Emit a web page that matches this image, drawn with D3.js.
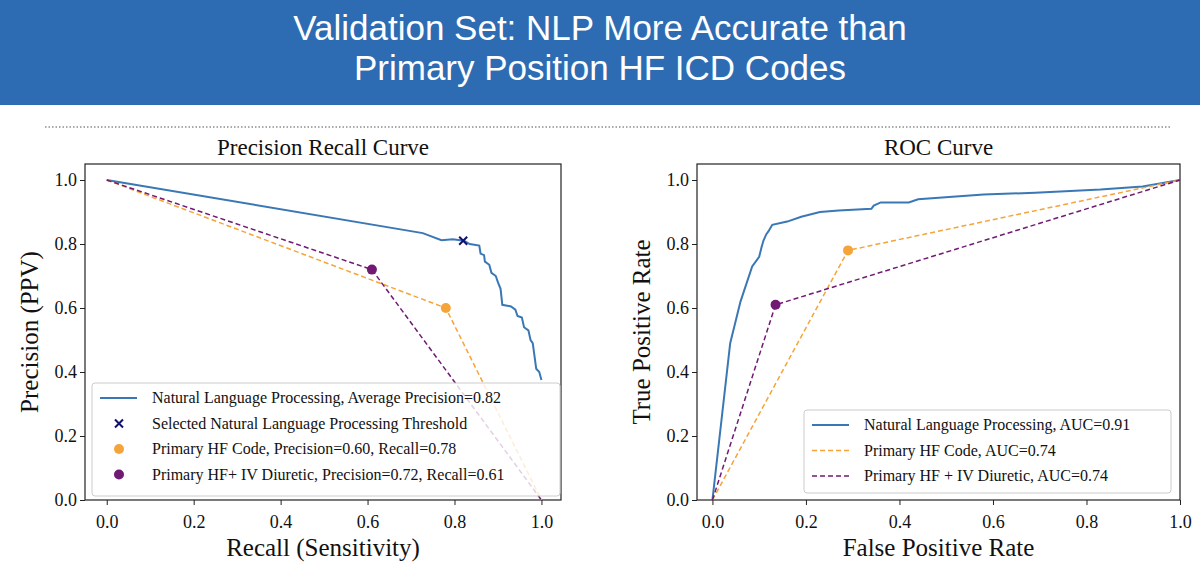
<!DOCTYPE html>
<html>
<head>
<meta charset="utf8">
<style>
  body { margin: 0; background: #fff; }
  text { font-family: "Liberation Serif", "Times New Roman", serif; fill: #111; }
  .hdr { font-family: "Liberation Sans", Arial, sans-serif; fill: #fff; }
</style>
</head>
<body>
<script src="https://d3js.org/d3.v7.min.js"></script>
<script>
var width = 1200, height = 585;

// precision-recall data
var prNlp = [[0,1.0],[0.727,0.834],[0.77,0.812],[0.796,0.815],[0.822,0.81],[0.835,0.80],[0.857,0.795],
  [0.86,0.77],[0.868,0.765],[0.87,0.745],[0.88,0.735],[0.885,0.71],[0.895,0.70],[0.9,0.68],[0.906,0.66],
  [0.91,0.61],[0.93,0.605],[0.94,0.595],[0.945,0.575],[0.955,0.57],[0.96,0.54],[0.97,0.53],
  [0.975,0.50],[0.98,0.49],[0.985,0.44],[0.988,0.41],[0.995,0.40],[1.0,0.375]];
var prSelected = [0.82, 0.81];
var prCode = [[0,1],[0.78,0.60],[1,0]];
var prDiur = [[0,1],[0.61,0.72],[1,0]];
var prLegend = ["Natural Language Processing, Average Precision=0.82",
  "Selected Natural Language Processing Threshold",
  "Primary HF Code, Precision=0.60, Recall=0.78",
  "Primary HF+ IV Diuretic, Precision=0.72, Recall=0.61"];

// ROC data
var rocNlp = [[0,0],[0.038,0.49],[0.06,0.62],[0.085,0.73],[0.1,0.76],[0.105,0.79],[0.109,0.81],
  [0.115,0.83],[0.12,0.84],[0.128,0.86],[0.16,0.87],[0.19,0.885],[0.23,0.9],[0.27,0.905],[0.34,0.91],
  [0.345,0.92],[0.36,0.93],[0.42,0.93],[0.44,0.94],[0.58,0.955],[0.69,0.96],[0.83,0.97],[0.92,0.98],[1,1]];
var rocCode = [[0,0],[0.29,0.78],[1,1]];
var rocDiur = [[0,0],[0.135,0.61],[1,1]];
var rocLegend = ["Natural Language Processing, AUC=0.91", "Primary HF Code, AUC=0.74",
  "Primary HF + IV Diuretic, AUC=0.74"];

var ticks = [0, 0.2, 0.4, 0.6, 0.8, 1.0];
var blue = "#3a78b5", orange = "#f5a43a", purple = "#701a74", navy = "#10106e";

var svg = d3.select("body").append("svg").attr("width", width).attr("height", height);

// header
svg.append("rect").attr("width", width).attr("height", 105).attr("fill", "#2d6cb2");
svg.append("text").attr("class", "hdr").attr("x", 600).attr("y", 40).attr("text-anchor", "middle")
  .style("font-size", "35px").text("Validation Set: NLP More Accurate than");
svg.append("text").attr("class", "hdr").attr("x", 600).attr("y", 80).attr("text-anchor", "middle")
  .style("font-size", "35px").text("Primary Position HF ICD Codes");
svg.append("line").attr("x1", 45).attr("x2", 1170).attr("y1", 127).attr("y2", 127)
  .attr("stroke", "#555").attr("stroke-dasharray", "1.5 2");

function panel(o) {
  var x = d3.scaleLinear().domain(o.xd).range([o.l, o.r]);
  var y = d3.scaleLinear().domain([0, 1.05]).range([500, 164]);
  var g = svg.append("g");
  g.append("rect").attr("x", o.l).attr("y", 164).attr("width", o.r - o.l).attr("height", 336)
    .attr("fill", "none").attr("stroke", "#222").attr("stroke-width", 1.2);
  g.append("g").attr("transform", "translate(0,500)")
    .call(d3.axisBottom(x).tickValues(ticks).tickFormat(d3.format(".1f")).tickSize(5).tickSizeOuter(0))
    .call(a => a.select(".domain").remove())
    .selectAll("text").style("font-size", "18px").attr("dy", "1.1em");
  g.append("g").attr("transform", "translate(" + o.l + ",0)")
    .call(d3.axisLeft(y).tickValues(ticks).tickFormat(d3.format(".1f")).tickSize(5).tickSizeOuter(0))
    .call(a => a.select(".domain").remove())
    .selectAll("text").style("font-size", "18px");
  g.selectAll(".tick line").attr("stroke", "#222");
  g.append("text").attr("x", (o.l + o.r) / 2).attr("y", 155).attr("text-anchor", "middle")
    .style("font-size", "23px").text(o.title);
  g.append("text").attr("x", (o.l + o.r) / 2).attr("y", 556).attr("text-anchor", "middle")
    .style("font-size", "25px").text(o.xlab);
  g.append("text").attr("transform", "translate(" + o.ylx + ",332) rotate(-90)").attr("text-anchor", "middle")
    .style("font-size", "25px").text(o.ylab);

  var line = d3.line().x(d => x(d[0])).y(d => y(d[1]));
  var clip = g.append("g");
  o.lines.forEach(function (s) {
    clip.append("path").datum(s.data).attr("d", line).attr("fill", "none").attr("stroke", s.color)
      .attr("stroke-width", s.dash ? 1.5 : 2).attr("stroke-dasharray", s.dash ? "5 3" : null);
  });
  o.dots.forEach(function (d) {
    clip.append("circle").attr("cx", x(d.p[0])).attr("cy", y(d.p[1])).attr("r", 5).attr("fill", d.color);
  });
  return { x: x, y: y, g: g };
}

var p1 = panel({ l: 85, r: 561, xd: [-0.05, 1.045], title: "Precision Recall Curve",
  xlab: "Recall (Sensitivity)", ylab: "Precision (PPV)", ylx: 38,
  lines: [{ data: prNlp, color: blue }, { data: prCode, color: orange, dash: true }, { data: prDiur, color: purple, dash: true }],
  dots: [{ p: prCode[1], color: orange }, { p: prDiur[1], color: purple }] });
// selected threshold marker
var sx = p1.x(prSelected[0]), sy = p1.y(prSelected[1]);
p1.g.append("path").attr("d", "M" + (sx - 4) + "," + (sy - 4) + "L" + (sx + 4) + "," + (sy + 4) + "M" + (sx - 4) + "," + (sy + 4) + "L" + (sx + 4) + "," + (sy - 4))
  .attr("stroke", navy).attr("stroke-width", 2);

var p2 = panel({ l: 697, r: 1180, xd: [-0.033, 1.0], title: "ROC Curve",
  xlab: "False Positive Rate", ylab: "True Positive Rate", ylx: 650,
  lines: [{ data: rocNlp, color: blue }, { data: rocCode, color: orange, dash: true }, { data: rocDiur, color: purple, dash: true }],
  dots: [{ p: rocCode[1], color: orange }, { p: rocDiur[1], color: purple }] });

// legends
function legend(x0, y0, w, h, items) {
  var g = svg.append("g");
  g.append("rect").attr("x", x0).attr("y", y0).attr("width", w).attr("height", h).attr("rx", 3)
    .attr("fill", "rgba(255,255,255,0.8)").attr("stroke", "#ccc");
  items.forEach(function (it, i) {
    var cy = y0 + 15 + i * 25.5;
    if (it.kind === "line") {
      g.append("line").attr("x1", x0 + 8).attr("x2", x0 + 45).attr("y1", cy).attr("y2", cy)
        .attr("stroke", it.color).attr("stroke-width", it.dash ? 1.5 : 2).attr("stroke-dasharray", it.dash ? "5 3" : null);
    } else if (it.kind === "dot") {
      g.append("circle").attr("cx", x0 + 27).attr("cy", cy).attr("r", 5).attr("fill", it.color);
    } else {
      g.append("path").attr("d", "M" + (x0 + 23) + "," + (cy - 4) + "l8,8M" + (x0 + 23) + "," + (cy + 4) + "l8,-8")
        .attr("stroke", it.color).attr("stroke-width", 2);
    }
    g.append("text").attr("x", x0 + 60).attr("y", cy + 5).style("font-size", "16px").text(it.label);
  });
}
legend(92, 383, 468, 113, [
  { kind: "line", color: blue, label: prLegend[0] },
  { kind: "x", color: navy, label: prLegend[1] },
  { kind: "dot", color: orange, label: prLegend[2] },
  { kind: "dot", color: purple, label: prLegend[3] }]);
legend(804, 410, 367, 83, [
  { kind: "line", color: blue, label: rocLegend[0] },
  { kind: "line", color: orange, dash: true, label: rocLegend[1] },
  { kind: "line", color: purple, dash: true, label: rocLegend[2] }]);
</script>
</body>
</html>
